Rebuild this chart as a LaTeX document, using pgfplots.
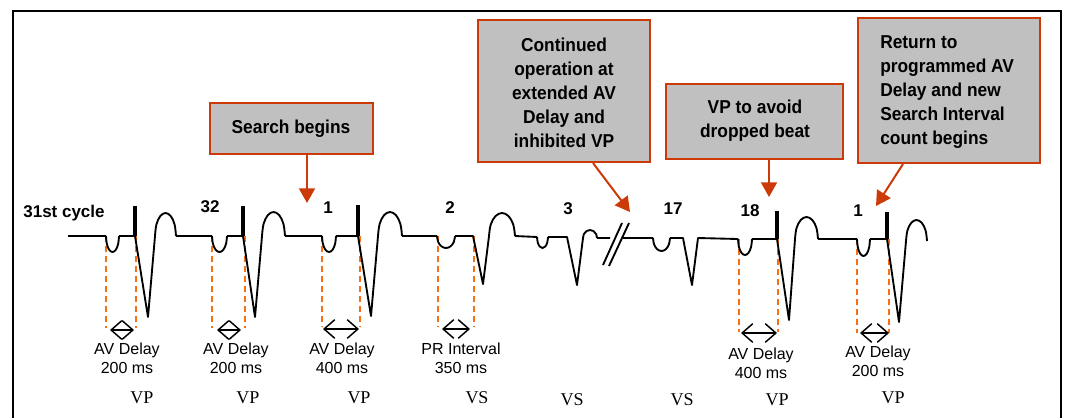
\documentclass[border=0pt]{standalone}
\usepackage{pgfplots}
\pgfplotsset{compat=1.18}
\usetikzlibrary{arrows.meta}
\usepackage{fontspec}
\setmainfont{Liberation Sans}
\newfontfamily\boxfont[FakeStretch=0.93]{Liberation Sans}
\newfontfamily\seriffont{Liberation Serif}
\definecolor{boxred}{RGB}{204,58,10}
\definecolor{boxgray}{RGB}{192,192,192}
\definecolor{dashor}{RGB}{250,110,20}
\pgfplotsset{
  wave/.style={black, line width=1.4pt, no markers, line join=round},
  curve/.style={black, line width=1.4pt, no markers, smooth, tension=0.6},
  spike/.style={black, line width=2.4pt, no markers},
  guide/.style={dashor, line width=1.5pt, no markers, dash pattern=on 4.5pt off 3pt},
  dimarr/.style={black, line width=1.1pt, no markers, {Straight Barb[length=8pt,width=14pt]}-{Straight Barb[length=8pt,width=14pt]}},
  callout/.style={boxred, line width=1.5pt, no markers, -{Triangle[length=11pt,width=12pt]}},
}
\begin{document}
\begin{tikzpicture}
\begin{axis}[scale only axis, width=799.5pt, height=313.5pt,
  xmin=0, xmax=1066, ymin=0, ymax=418, y dir=reverse,
  hide axis, clip=false, unbounded coords=jump]

% frame
\addplot[black, line width=1.6pt, no markers] coordinates {(13,418) (13,11) (1061,11) (1061,418)};

% orange guide lines
\addplot[guide] coordinates {(106,236)(106,328) (nan,nan) (136,236)(136,328)
 (nan,nan) (212,236)(212,328) (nan,nan) (245,236)(245,328)
 (nan,nan) (322,236)(322,327) (nan,nan) (360,236)(360,327)
 (nan,nan) (438,236)(438,327) (nan,nan) (474,236)(474,327)
 (nan,nan) (739,239)(739,332) (nan,nan) (778,239)(778,332)
 (nan,nan) (857,239)(857,333) (nan,nan) (889,239)(889,333)};

% straight parts of the trace
\addplot[wave] coordinates {(68,236)(106,236) (nan,nan)
 (119,236)(135,236)(148,317)(155,236) (nan,nan)
 (176,236)(212,236) (nan,nan)
 (227,236)(243,236)(255,317)(262,236) (nan,nan)
 (285,236)(322,236) (nan,nan)
 (336,236)(358,236)(371,316)(378,236) (nan,nan)
 (402,236)(437,236) (nan,nan)
 (455,236)(473,236)(483,284)(489,236) (nan,nan)
 (515,236)(537,237) (nan,nan)
 (548,237)(567,237)(577,285)(583,238) (nan,nan)
 (597,238)(610,238) (nan,nan)
 (623,238)(653,238) (nan,nan)
 (670,238)(683,238)(692,285)(698,238)(738,239) (nan,nan)
 (752,239)(777,239)(789,320)(795,239) (nan,nan)
 (818,239)(857,239) (nan,nan)
 (870,239)(887,239)(899,322)(906,241) (nan,nan)
 (603,265)(622,223) (nan,nan)
 (609,266)(629,223)};

% P-wave dips and T-wave humps
\addplot[curve] coordinates {(106,236)(106.87,244)(109.25,249.86)(112.5,252)(115.75,249.86)(118.13,244)(119,236)};
\addplot[curve] coordinates {(155,236)(156.41,224.5)(160.25,216.08)(165.5,213)(170.75,216.08)(174.59,224.5)(176,236)};
\addplot[curve] coordinates {(212,236)(213,244)(215.75,249.86)(219.5,252)(223.25,249.86)(226,244)(227,236)};
\addplot[curve] coordinates {(262,236)(263.54,224)(267.75,215.22)(273.5,212)(279.25,215.22)(283.46,224)(285,236)};
\addplot[curve] coordinates {(322,236)(322.94,244)(325.5,249.86)(329,252)(332.5,249.86)(335.06,244)(336,236)};
\addplot[curve] coordinates {(378,236)(379.61,224)(384,215.22)(390,212)(396,215.22)(400.39,224)(402,236)};
\addplot[curve] coordinates {(437,236)(438.21,242)(441.5,246.39)(446,248)(450.5,246.39)(453.79,242)(455,236)};
\addplot[curve] coordinates {(489,236)(490.74,224.5)(495.5,216.08)(502,213)(508.5,216.08)(513.26,224.5)(515,236)};
\addplot[curve] coordinates {(537,237)(537.74,242.5)(539.75,246.53)(542.5,248)(545.25,246.53)(547.26,242.5)(548,237)};
\addplot[curve] coordinates {(583,238)(583.94,234)(586.5,231.07)(590,230)(593.5,231.07)(596.06,234)(597,238)};
\addplot[curve] coordinates {(653,238)(654.14,244.5)(657.25,249.26)(661.5,251)(665.75,249.26)(668.86,244.5)(670,238)};
\addplot[curve] coordinates {(738,239)(738.94,247)(741.5,252.86)(745,255)(748.5,252.86)(751.06,247)(752,239)};
\addplot[curve] coordinates {(795,239)(796.54,228)(800.75,219.95)(806.5,217)(812.25,219.95)(816.46,228)(818,239)};
\addplot[curve] coordinates {(857,239)(857.87,247.5)(860.25,253.72)(863.5,256)(866.75,253.72)(869.13,247.5)(870,239)};
\addplot[curve] coordinates {(906,241)(907.41,230.5)(911.25,222.81)(916.5,220)(921.75,222.81)(925.59,230.5)(927,241)};

% pacing spikes
\addplot[spike] coordinates {(135,206)(135,236) (nan,nan) (243,206)(243,236) (nan,nan)
 (358,205)(358,236) (nan,nan) (777,211)(777,239) (nan,nan) (887,212)(887,239)};

% dimension arrows
\addplot[dimarr] coordinates {(110,330)(134,330)};
\addplot[dimarr] coordinates {(217,330)(241,330)};
\addplot[dimarr] coordinates {(323,329)(359,329)};
\addplot[dimarr] coordinates {(442,329)(470,329)};
\addplot[dimarr] coordinates {(741,333)(777,333)};
\addplot[dimarr] coordinates {(860,333)(889,333)};

% callout boxes
\filldraw[fill=boxgray, draw=boxred, line width=2.2pt] (axis cs:210,103) rectangle (axis cs:373,154);
\filldraw[fill=boxgray, draw=boxred, line width=2.2pt] (axis cs:478,20) rectangle (axis cs:650,162);
\filldraw[fill=boxgray, draw=boxred, line width=2.2pt] (axis cs:666,84) rectangle (axis cs:843,159);
\filldraw[fill=boxgray, draw=boxred, line width=2.2pt] (axis cs:858,18) rectangle (axis cs:1040,163);

\addplot[callout] coordinates {(307,155)(307,203)};
\addplot[callout] coordinates {(593,163)(630,212)};
\addplot[callout] coordinates {(769,160)(769,197)};
\addplot[callout] coordinates {(903,164)(876,206)};

\begin{scope}[every node/.style={inner sep=0pt, font=\boxfont\bfseries\fontsize{14pt}{18pt}\selectfont}]
\node[align=center] at (axis cs:291,129) {Search begins};
\node[align=center] at (axis cs:564,93) {Continued\\operation at\\extended AV\\Delay and\\inhibited VP};
\node[align=center] at (axis cs:755,121) {VP to avoid\\dropped beat};
\node[align=left, anchor=west] at (axis cs:880,92) {Return to\\programmed AV\\Delay and new\\Search Interval\\count begins};
\end{scope}

% beat numbers
\begin{scope}[every node/.style={inner sep=0pt, font=\bfseries\fontsize{12.75pt}{15pt}\selectfont}]
\node at (axis cs:64,213) {31st cycle};
\node at (axis cs:210,207) {32};
\node at (axis cs:328,208) {1};
\node at (axis cs:450,208) {2};
\node at (axis cs:568,209) {3};
\node at (axis cs:673,209) {17};
\node at (axis cs:750,211) {18};
\node at (axis cs:858,211) {1};
\end{scope}

% interval labels
\begin{scope}[every node/.style={inner sep=0pt, align=center, font=\fontsize{12pt}{14.25pt}\selectfont}]
\node at (axis cs:127,358.5) {AV Delay\\200 ms};
\node at (axis cs:236,358.5) {AV Delay\\200 ms};
\node at (axis cs:342,358) {AV Delay\\400 ms};
\node at (axis cs:461,358) {PR Interval\\350 ms};
\node at (axis cs:761,363) {AV Delay\\400 ms};
\node at (axis cs:878,361) {AV Delay\\200 ms};
\end{scope}

% VP / VS labels
\begin{scope}[every node/.style={inner sep=0pt, font=\seriffont\fontsize{13.5pt}{16pt}\selectfont}]
\node at (axis cs:142,398) {VP};
\node at (axis cs:248,398) {VP};
\node at (axis cs:359,398) {VP};
\node at (axis cs:477,398) {VS};
\node at (axis cs:572,400) {VS};
\node at (axis cs:682,400) {VS};
\node at (axis cs:777,400) {VP};
\node at (axis cs:893,398) {VP};
\end{scope}
\end{axis}
\pgfresetboundingbox
\path (current axis.south west) rectangle (current axis.north east);
\end{tikzpicture}
\end{document}
